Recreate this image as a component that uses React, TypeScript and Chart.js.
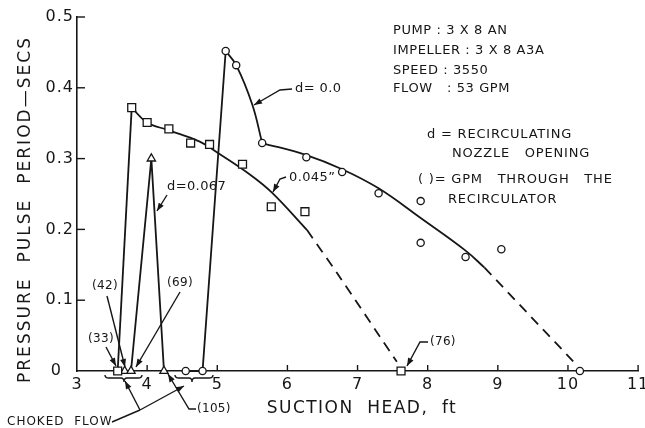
import React, { useEffect, useRef } from "react";
import { Chart, registerables } from "chart.js";

Chart.register(...registerables);

// ---------- axis ticks ----------
const xTicks = [3, 4, 5, 6, 7, 8, 9, 10, 11];
const yTicks = [0, 0.1, 0.2, 0.3, 0.4, 0.5];
const yTickLabels = ["0  ", "0.1", "0.2", "0.3", "0.4", "0.5"];

// ---------- measured points ----------
// d = 0.045" (squares)
const sqX = [3.58, 3.78, 4.0, 4.31, 4.62, 4.89, 5.36, 5.77, 6.25, 7.62];
const sqY = [0, 0.372, 0.351, 0.342, 0.322, 0.32, 0.292, 0.232, 0.225, 0];
// d = 0.0 (circles)
const ciX = [4.55, 4.79, 5.12, 5.27, 5.64, 6.27, 6.78, 7.3, 7.9, 7.9, 8.54, 9.05, 10.17];
const ciY = [0, 0, 0.452, 0.432, 0.322, 0.302, 0.281, 0.251, 0.24, 0.181, 0.161, 0.172, 0];
// d = 0.067 (triangles)
const trX = [3.68, 3.77, 4.06, 4.24];
const trY = [0, 0, 0.3, 0];

// ---------- drawn curves ----------
const sqRiseX = [3.58, 3.78];
const sqRiseY = [0, 0.372];
const sqFitX = [3.78, 4.0, 4.31, 4.75, 5.01, 5.46, 5.78, 6.28];
const sqFitY = [0.372, 0.351, 0.34, 0.324, 0.308, 0.278, 0.252, 0.199];
const sqDashX = [6.28, 6.71, 7.56];
const sqDashY = [0.199, 0.138, 0.013];

const ciRiseX = [4.55, 4.79, 5.12];
const ciRiseY = [0, 0, 0.452];
const ciPeakX = [5.12, 5.27, 5.5, 5.64];
const ciPeakY = [0.452, 0.432, 0.376, 0.322];
const ciFitX = [5.64, 6.27, 6.78, 7.3, 7.9, 8.54, 8.81];
const ciFitY = [0.322, 0.305, 0.285, 0.258, 0.216, 0.17, 0.146];
const ciDashX = [8.81, 10.1];
const ciDashY = [0.146, 0.011];

const trLineX = [3.77, 4.06, 4.24];
const trLineY = [0, 0.3, 0];

// ---------- text ----------
const infoLines = ["PUMP : 3 X 8 AN", "IMPELLER : 3 X 8 A3A", "SPEED : 3550", "FLOW   : 53 GPM"];
const yTitle = "PRESSURE  PULSE  PERIOD—SECS";
const xTitle = "SUCTION  HEAD,  ft";

const INK = "#161616";
const FONT = "'DejaVu Sans', sans-serif";

const pts = (xs: number[], ys: number[]) => xs.map((x, i) => ({ x, y: ys[i] }));

function arrowHead(ctx: CanvasRenderingContext2D, x1: number, y1: number, x2: number, y2: number) {
  const a = Math.atan2(y2 - y1, x2 - x1);
  const L = 8, W = 3;
  ctx.beginPath();
  ctx.moveTo(x2, y2);
  ctx.lineTo(x2 - L * Math.cos(a) + W * Math.sin(a), y2 - L * Math.sin(a) - W * Math.cos(a));
  ctx.lineTo(x2 - L * Math.cos(a) - W * Math.sin(a), y2 - L * Math.sin(a) + W * Math.cos(a));
  ctx.closePath();
  ctx.fill();
}

function leader(ctx: CanvasRenderingContext2D, p: number[][]) {
  ctx.beginPath();
  ctx.moveTo(p[0][0], p[0][1]);
  for (let i = 1; i < p.length; i++) ctx.lineTo(p[i][0], p[i][1]);
  ctx.stroke();
  const n = p.length;
  arrowHead(ctx, p[n - 2][0], p[n - 2][1], p[n - 1][0], p[n - 1][1]);
}

function brace(ctx: CanvasRenderingContext2D, x1: number, x2: number, cx: number, y: number) {
  ctx.beginPath();
  ctx.moveTo(x1, y);
  ctx.quadraticCurveTo(x1, y + 3, x1 + 4, y + 3);
  ctx.lineTo(cx - 3, y + 3);
  ctx.quadraticCurveTo(cx, y + 3, cx, y + 7);
  ctx.quadraticCurveTo(cx, y + 3, cx + 3, y + 3);
  ctx.lineTo(x2 - 4, y + 3);
  ctx.quadraticCurveTo(x2, y + 3, x2, y);
  ctx.stroke();
}

function fitText(ctx: CanvasRenderingContext2D, s: string, width: number) {
  (ctx as any).letterSpacing = "0px";
  const w0 = ctx.measureText(s).width;
  const ls = (width - w0) / Math.max(1, s.length - 1);
  (ctx as any).letterSpacing = ls + "px";
  return ls;
}

const spacingPlugin = {
  id: "spacing",
  beforeUpdate(chart: any) {
    chart.ctx.letterSpacing = "1px";
  },
  beforeDraw(chart: any) {
    chart.ctx.letterSpacing = "1px";
  },
};

const annotPlugin = {
  id: "annot",
  afterDraw(chart: any) {
    const ctx: CanvasRenderingContext2D = chart.ctx;
    const xs = chart.scales.x;
    const ys = chart.scales.y;
    const area = chart.chartArea;
    ctx.save();
    ctx.strokeStyle = INK;
    ctx.fillStyle = INK;
    ctx.lineWidth = 1.4;
    ctx.lineCap = "butt";

    // inside tick marks
    xTicks.forEach((v, i) => {
      if (i === 0) return;
      const px = xs.getPixelForValue(v);
      ctx.beginPath();
      ctx.moveTo(px, area.bottom);
      ctx.lineTo(px, area.bottom - 6);
      ctx.stroke();
    });
    yTicks.forEach((v, i) => {
      if (i === 0) return;
      const py = ys.getPixelForValue(v);
      ctx.beginPath();
      ctx.moveTo(area.left, py);
      ctx.lineTo(area.left + 8, py);
      ctx.stroke();
    });

    // axis titles
    ctx.textBaseline = "middle";
    ctx.textAlign = "center";
    ctx.font = "17px " + FONT;
    ctx.save();
    ctx.translate(26, (37 + 382) / 2);
    ctx.rotate(-Math.PI / 2);
    fitText(ctx, yTitle, 345);
    ctx.fillText(yTitle, 0, 0);
    ctx.restore();
    ctx.font = "17px " + FONT;
    fitText(ctx, xTitle, 189);
    ctx.fillText(xTitle, 362, 409);

    // info block
    ctx.textAlign = "left";
    ctx.font = "13px " + FONT;
    (ctx as any).letterSpacing = "0.6px";
    const infoY = [31, 51, 71, 89];
    infoLines.forEach((s, i) => ctx.fillText(s, 393, infoY[i]));

    (ctx as any).letterSpacing = "0.8px";
    ctx.fillText("d = RECIRCULATING", 427, 135);
    ctx.fillText("NOZZLE   OPENING", 452, 154);
    ctx.fillText("( )= GPM   THROUGH   THE", 418, 180);
    ctx.fillText("RECIRCULATOR", 448, 200);

    // curve labels
    ctx.font = "13px " + FONT;
    (ctx as any).letterSpacing = "0.4px";
    ctx.fillText("d= 0.0", 295, 89);
    leader(ctx, [[292, 89], [280, 90], [254, 105]]);
    ctx.fillText("0.045\u201D", 289, 178);
    leader(ctx, [[286, 177], [280, 179], [273, 192]]);
    ctx.fillText("d=0.067", 167, 187);
    leader(ctx, [[167, 195], [157, 211]]);

    ctx.font = "12px " + FONT;
    (ctx as any).letterSpacing = "0.3px";
    ctx.textAlign = "center";
    ctx.fillText("(42)", 105, 286);
    leader(ctx, [[107, 296], [125, 367]]);
    ctx.fillText("(69)", 180, 283);
    leader(ctx, [[180, 292], [136, 367]]);
    ctx.fillText("(33)", 101, 339);
    leader(ctx, [[106, 347], [116, 366]]);
    ctx.textAlign = "left";
    ctx.fillText("(105)", 197, 409);
    leader(ctx, [[196, 409], [189, 409], [168, 374]]);
    ctx.fillText("(76)", 430, 342);
    leader(ctx, [[428, 342], [420, 342], [407, 366]]);

    ctx.font = "12px " + FONT;
    (ctx as any).letterSpacing = "1px";
    ctx.fillText("CHOKED  FLOW", 7, 422);
    ctx.beginPath();
    ctx.moveTo(112, 422);
    ctx.lineTo(140, 410);
    ctx.stroke();
    leader(ctx, [[140, 410], [125, 381]]);
    leader(ctx, [[140, 410], [184, 386]]);

    brace(ctx, 105, 142, 124, 375);
    brace(ctx, 175, 213, 192, 375);

    ctx.restore();
  },
};

const markerBase = {
  showLine: false,
  borderColor: INK,
  backgroundColor: "#ffffff",
  borderWidth: 1.3,
  clip: false as any,
};

const lineBase = {
  showLine: true,
  pointRadius: 0,
  borderColor: INK,
  borderWidth: 1.8,
  backgroundColor: INK,
  clip: false as any,
};

export default function App() {
  const ref = useRef<HTMLCanvasElement | null>(null);

  useEffect(() => {
    document.body.style.margin = "0";
    const canvas = ref.current;
    if (!canvas) return;
    const chart = new Chart(canvas, {
      type: "scatter",
      data: {
        datasets: [
          { ...markerBase, label: "d = 0.045 in", data: pts(sqX, sqY), pointStyle: "rect", pointRadius: 5.6 },
          { ...markerBase, label: "d = 0.0", data: pts(ciX, ciY), pointStyle: "circle", pointRadius: 3.6 },
          { ...markerBase, label: "d = 0.067", data: pts(trX, trY), pointStyle: "triangle", pointRadius: 4.8 },
          { ...lineBase, label: "sq rise", data: pts(sqRiseX, sqRiseY), tension: 0 },
          { ...lineBase, label: "sq fit", data: pts(sqFitX, sqFitY), tension: 0.4 },
          { ...lineBase, label: "sq dash", data: pts(sqDashX, sqDashY), tension: 0.3, borderDash: [10, 7] },
          { ...lineBase, label: "ci rise", data: pts(ciRiseX, ciRiseY), tension: 0 },
          { ...lineBase, label: "ci peak", data: pts(ciPeakX, ciPeakY), tension: 0.4 },
          { ...lineBase, label: "ci fit", data: pts(ciFitX, ciFitY), tension: 0.4 },
          { ...lineBase, label: "ci dash", data: pts(ciDashX, ciDashY), tension: 0, borderDash: [10, 7] },
          { ...lineBase, label: "tri", data: pts(trLineX, trLineY), tension: 0 },
        ] as any,
      },
      options: {
        responsive: false,
        animation: false,
        events: [],
        layout: { padding: { top: 17, right: 5, left: 0, bottom: 0 } },
        plugins: { legend: { display: false }, tooltip: { enabled: false }, title: { display: false } },
        scales: {
          x: {
            type: "linear",
            min: xTicks[0],
            max: xTicks[xTicks.length - 1],
            grid: { display: false, drawTicks: false },
            border: { display: true, color: INK, width: 1.6 },
            ticks: {
              stepSize: 1,
              color: INK,
              padding: 4,
              font: { family: FONT, size: 16 },
              maxRotation: 0,
              autoSkip: false,
            },
            afterFit: (s: any) => {
              s.height = 57;
              s.paddingLeft = 0;
              s.paddingRight = 0;
            },
          },
          y: {
            type: "linear",
            min: yTicks[0],
            max: yTicks[yTicks.length - 1],
            grid: { display: false, drawTicks: false },
            border: { display: true, color: INK, width: 1.6 },
            ticks: {
              stepSize: 0.1,
              color: INK,
              padding: 3,
              font: { family: FONT, size: 16 },
              callback: (_v: any, i: number) => yTickLabels[i],
            },
            afterFit: (s: any) => {
              s.width = 77;
              s.paddingTop = 0;
              s.paddingBottom = 0;
            },
          },
        },
      },
      plugins: [spacingPlugin, annotPlugin],
    });
    return () => chart.destroy();
  }, []);

  return (
    <div style={{ width: 645, height: 428, background: "#fff" }}>
      <canvas ref={ref} width={645} height={428} style={{ display: "block" }} />
    </div>
  );
}
